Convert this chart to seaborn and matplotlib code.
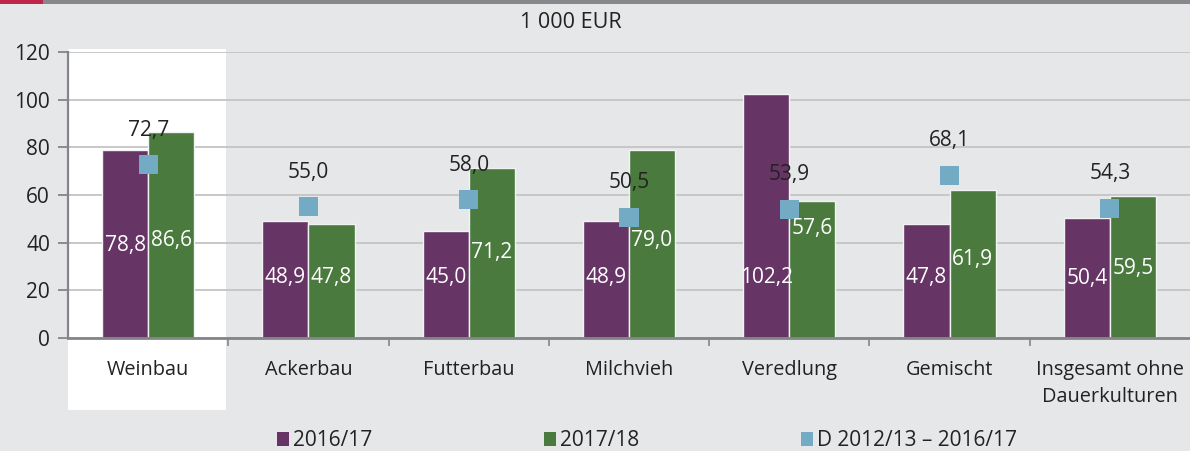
import numpy as np
import pandas as pd
import matplotlib
matplotlib.use("Agg")
import matplotlib.pyplot as plt
import matplotlib.transforms as mtransforms
from matplotlib.patches import Rectangle, Patch
import seaborn as sns

# ---------------- data ----------------
categories = ["Weinbau", "Ackerbau", "Futterbau", "Milchvieh", "Veredlung",
              "Gemischt", "Insgesamt ohne\nDauerkulturen"]
vals_2016 = [78.8, 48.9, 45.0, 48.9, 102.2, 47.8, 50.4]
vals_2017 = [86.6, 47.8, 71.2, 79.0, 57.6, 61.9, 59.5]
vals_avg = [72.7, 55.0, 58.0, 50.5, 53.9, 68.1, 54.3]
series_names = ["2016/17", "2017/18", "D 2012/13 – 2016/17"]
yticks = [0, 20, 40, 60, 80, 100, 120]
unit_label = "1 000 EUR"
# label heights inside the bars (data units), as placed in the original
lab_y_2016 = [39, 25.5, 25.5, 25.5, 25.5, 25.5, 25]
lab_y_2017 = [41, 25.5, 36, 41, 46, 33, 29]

# ---------------- style ----------------
BG = "#e6e7e9"
PURPLE = "#673466"
GREEN = "#4a7a3e"
BLUE = "#72abc3"
GRID = "#c4c4c6"
SPINE = "#848588"
TXT = "#222222"

sns.set_theme(style="white")
plt.rcParams["font.family"] = ["Open Sans", "DejaVu Sans"]

fig = plt.figure(figsize=(11.9, 4.51), dpi=100, facecolor=BG)
ax = fig.add_axes([68 / 1190, 1 - 338 / 451, 1 - 68 / 1190, (338 - 52) / 451])
ax.set_facecolor(BG)

df = pd.DataFrame({
    "cat": categories * 2,
    "value": vals_2016 + vals_2017,
    "series": [series_names[0]] * len(categories) + [series_names[1]] * len(categories),
})

sns.barplot(data=df, x="cat", y="value", hue="series", order=categories,
            hue_order=series_names[:2], palette=[PURPLE, GREEN], saturation=1,
            width=0.575, dodge=True, edgecolor="#f2f2f2", linewidth=1.0,
            legend=False, ax=ax, zorder=2)

xpos = np.arange(len(categories))
sns.scatterplot(x=xpos, y=vals_avg, marker="s", s=190, color=BLUE,
                edgecolor="none", linewidth=0, zorder=4, ax=ax, legend=False)

# value labels
for i, cont in enumerate(ax.containers[:2]):
    labs = lab_y_2016 if i == 0 else lab_y_2017
    vals = vals_2016 if i == 0 else vals_2017
    for bar, v, ly in zip(cont.patches, vals, labs):
        cx = bar.get_x() + bar.get_width() / 2
        ax.text(cx, ly, f"{v:.1f}".replace(".", ","), ha="center", va="center",
                color="white", fontsize=15, zorder=5)
for x, v in zip(xpos, vals_avg):
    ax.annotate(f"{v:.1f}".replace(".", ","), (x, v), xytext=(0, 25),
                textcoords="offset points", ha="center", va="center",
                color=TXT, fontsize=15, zorder=5)

# axes styling
ax.set_ylim(0, 120)
ax.set_xlim(-0.5, len(categories) - 0.5)
ax.set_yticks(yticks)
ax.set_yticklabels([str(t) for t in yticks], fontsize=15, color=TXT)
ax.yaxis.grid(True, color=GRID, linewidth=1.3)
ax.set_axisbelow(True)
ax.set_xlabel("")
ax.set_ylabel("")
ax.tick_params(axis="y", left=True, length=7, width=1.3, color=SPINE, pad=6)
ax.set_xticks(xpos)
ax.set_xticklabels(categories, fontsize=14.3, color=TXT, linespacing=1.45)
ax.set_xticks(np.arange(len(categories) - 1) + 0.5, minor=True)
ax.tick_params(axis="x", which="major", length=0, pad=16)
ax.tick_params(axis="x", which="minor", bottom=True, length=6, width=1.2, color=SPINE)
for s in ["top", "right"]:
    ax.spines[s].set_visible(False)
ax.spines["left"].set_color(SPINE)
ax.spines["left"].set_linewidth(1.6)
ax.spines["bottom"].set_color(SPINE)
ax.spines["bottom"].set_linewidth(2.0)
ax.spines["bottom"].set_zorder(6)

# white highlight box behind the first category
trans = mtransforms.blended_transform_factory(ax.transData, ax.transAxes)
ax.add_patch(Rectangle((-0.5, -0.252), 0.985, 1.262, transform=trans,
                       facecolor="white", edgecolor="none", zorder=0.1,
                       clip_on=False))

# top decoration line
fig.add_artist(Rectangle((0, 1 - 4 / 451), 1, 4 / 451, transform=fig.transFigure,
                         facecolor="#87888c", edgecolor="none"))
fig.add_artist(Rectangle((0, 1 - 4 / 451), 43 / 1190, 4 / 451, transform=fig.transFigure,
                         facecolor="#c0254a", edgecolor="none"))

fig.text(571 / 1190, 1 - 23 / 451, unit_label, ha="center", va="center",
         fontsize=15.5, color=TXT)

# legend: three entries placed like the original
leg_x = [277, 544, 801]
for name, col, lx in zip(series_names, [PURPLE, GREEN, BLUE], leg_x):
    fig.legend([Patch(facecolor=col, edgecolor="none")], [name],
               loc="center left", bbox_to_anchor=(lx / 1190, 1 - 441 / 451),
               frameon=False, borderpad=0, borderaxespad=0,
               handlelength=0.58, handleheight=0.67, handletextpad=0.2,
               prop={"size": 15}, labelcolor=TXT)

fig.savefig("out.png", dpi=100, facecolor=BG)
